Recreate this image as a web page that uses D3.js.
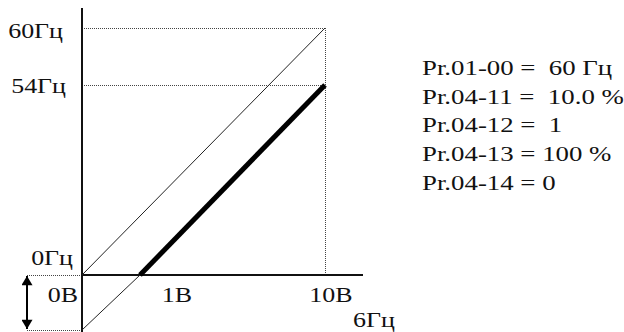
<!DOCTYPE html>
<html>
<head>
<meta charset="utf-8">
<script src="https://cdn.jsdelivr.net/npm/d3@7"></script>
<style>
  html, body { margin: 0; padding: 0; background: #fff; }
  svg { display: block; }
  text { white-space: pre; }
</style>
</head>
<body>
<svg id="chart" width="624" height="332"></svg>
<script>
// voltage (В) on x, frequency (Гц) on y
const xTicks = [0, 1, 10];
const xTickLabels = ["0В", "1В", "10В"];
const yTicks = [0, 54, 60];
const yTickLabels = ["0Гц", "54Гц", "60Гц"];
const refLine = [[0, 0], [10, 60]];      // 0..10В -> 0..60Гц
const biasLine = [[1, 0], [10, 54]];     // with 10% negative bias
const biasExt = [[0, -6], [1, 0]];       // part below 0Гц
const biasHz = -6;
const biasLabel = "6Гц";
const params = [
  "Pr.01-00 =  60 Гц",
  "Pr.04-11 =  10.0 %",
  "Pr.04-12 =  1",
  "Pr.04-13 = 100 %",
  "Pr.04-14 = 0"
];

const svg = d3.select("#chart");
const SX = 1.18; // glyphs in the picture are a bit wider than Times
const FONT = "'Liberation Serif', 'Times New Roman', Times, serif";

// schematic (not to scale) so the scales are piecewise
const x = d3.scaleLinear().domain([0, 1, 10]).range([82, 140, 325]);
const y = d3.scaleLinear().domain([-6, 0, 54, 60]).range([330, 275, 85, 28]);

const line = d3.line().x(d => x(d[0])).y(d => y(d[1]));

function label(g, px, py, txt, anchor, sx) {
  g.append("text")
    .attr("transform", `translate(${px},${py}) scale(${sx || SX},1)`)
    .attr("text-anchor", anchor || "start")
    .attr("font-family", FONT)
    .attr("font-size", 22)
    .attr("fill", "#111")
    .attr("xml:space", "preserve")
    .text(txt);
}

// dotted guides
const guides = svg.append("g")
  .attr("stroke", "#444")
  .attr("stroke-width", 1)
  .attr("stroke-dasharray", "1,1")
  .attr("fill", "none");
yTicks.filter(v => v > 0).forEach(v => {
  guides.append("line")
    .attr("x1", x(0)).attr("x2", x(10))
    .attr("y1", y(v) + 0.5).attr("y2", y(v) + 0.5);
});
guides.append("line")
  .attr("x1", x(10) + 0.5).attr("x2", x(10) + 0.5)
  .attr("y1", y(60)).attr("y2", y(0));
const arrowX = 27;
[0, biasHz].forEach(v => {
  guides.append("line")
    .attr("x1", arrowX).attr("x2", x(0))
    .attr("y1", y(v) + 0.5).attr("y2", y(v) + 0.5);
});

// axes
svg.append("line")
  .attr("x1", x(0)).attr("x2", x(0))
  .attr("y1", 8).attr("y2", 332)
  .attr("stroke", "#111").attr("stroke-width", 2);
svg.append("line")
  .attr("x1", x(0)).attr("x2", 363)
  .attr("y1", y(0)).attr("y2", y(0))
  .attr("stroke", "#111").attr("stroke-width", 2);

// thin lines
svg.append("path").datum(refLine)
  .attr("d", line).attr("fill", "none")
  .attr("stroke", "#222").attr("stroke-width", 1);
svg.append("path").datum(biasExt)
  .attr("d", line).attr("fill", "none")
  .attr("stroke", "#222").attr("stroke-width", 1);

// bold bias line
svg.append("path").datum(biasLine)
  .attr("d", line).attr("fill", "none")
  .attr("stroke", "#000").attr("stroke-width", 5);

// double arrow for the bias
const defs = svg.append("defs");
defs.append("marker")
  .attr("id", "head")
  .attr("viewBox", "0 0 10 12")
  .attr("refX", 10).attr("refY", 6)
  .attr("markerWidth", 12).attr("markerHeight", 11)
  .attr("markerUnits", "userSpaceOnUse")
  .attr("orient", "auto-start-reverse")
  .append("path").attr("d", "M0,0 L10,6 L0,12 Z").attr("fill", "#000");
svg.append("line")
  .attr("x1", arrowX).attr("x2", arrowX)
  .attr("y1", y(0) + 1).attr("y2", y(biasHz) - 1)
  .attr("stroke", "#000").attr("stroke-width", 2)
  .attr("marker-start", "url(#head)")
  .attr("marker-end", "url(#head)");

// labels
const lab = svg.append("g");
const yOff = [-10, 8, 10];
const yX = [73, 66, 63];
yTicks.forEach((v, i) => label(lab, yX[i], y(v) + yOff[i], yTickLabels[i], "end"));
const xOff = [-4, 37, 6];
const xAnchor = ["end", "middle", "middle"];
xTicks.forEach((v, i) => label(lab, x(v) + xOff[i], 302, xTickLabels[i], xAnchor[i]));
label(lab, 353, y(biasHz) - 3, biasLabel);

params.forEach((p, i) => label(lab, 422, 75 + i * 28.7, p, "start", 1.22));
</script>
</body>
</html>
